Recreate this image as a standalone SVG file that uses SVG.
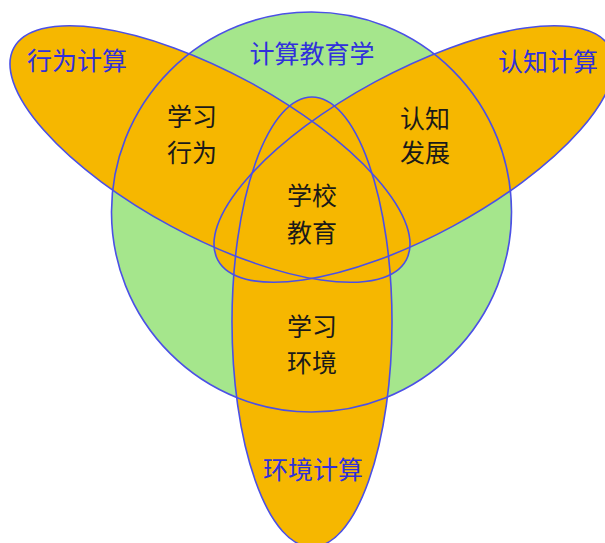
<svg xmlns="http://www.w3.org/2000/svg" width="605" height="543" viewBox="0 0 605 543">
<style>
.bg{fill:#ffffff}
.green{fill:#A5E68C}
.orange{fill:#F6B700}
.edge{fill:none;stroke:#4B50E6;stroke-width:1.6}
text{font-family:"Noto Sans CJK SC","Noto Sans",sans-serif;font-size:25px;text-anchor:middle;dominant-baseline:central}
.blue{fill:#3030DC}
.dark{fill:#1a1a1a}
</style>
<rect class="bg" x="0" y="0" width="605" height="543"/>
<g id="fills">
<circle class="green" cx="311.5" cy="212" r="200"/>
<ellipse class="orange" cx="210" cy="154" rx="223" ry="82" transform="rotate(28.4 210 154)"/>
<ellipse class="orange" cx="414" cy="154" rx="223" ry="82" transform="rotate(-28.4 414 154)"/>
<ellipse class="orange" cx="312" cy="322" rx="80" ry="225"/>
</g>
<g id="connectors"></g>
<g id="node-jiaoyuxue">
<circle class="edge" cx="311.5" cy="212" r="200"/>
<text class="blue" x="312" y="52">计算教育学</text>
</g>
<g id="node-xingwei">
<ellipse class="edge" cx="210" cy="154" rx="223" ry="82" transform="rotate(28.4 210 154)"/>
<text class="blue" x="77" y="59">行为计算</text>
</g>
<g id="node-renzhi">
<ellipse class="edge" cx="414" cy="154" rx="223" ry="82" transform="rotate(-28.4 414 154)"/>
<text class="blue" x="548" y="60">认知计算</text>
</g>
<g id="node-huanjing">
<ellipse class="edge" cx="312" cy="322" rx="80" ry="225"/>
<text class="blue" x="313" y="468">环境计算</text>
</g>
<g id="node-xuexixingwei">
<text class="dark" x="192" y="115">学习</text>
<text class="dark" x="192" y="151">行为</text>
</g>
<g id="node-renzhifazhan">
<text class="dark" x="425" y="117">认知</text>
<text class="dark" x="425" y="151">发展</text>
</g>
<g id="node-xuexiaojiaoyu">
<text class="dark" x="312" y="194">学校</text>
<text class="dark" x="312" y="231">教育</text>
</g>
<g id="node-xuexihuanjing">
<text class="dark" x="312" y="325">学习</text>
<text class="dark" x="312" y="361">环境</text>
</g>
</svg>
